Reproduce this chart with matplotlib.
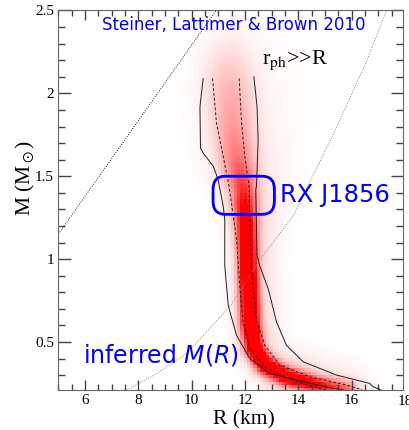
import matplotlib
matplotlib.use("Agg")
import matplotlib.pyplot as plt
import numpy as np
from matplotlib.colors import LinearSegmentedColormap
from matplotlib.patches import FancyBboxPatch
from matplotlib.ticker import MultipleLocator

#outer (solid) contour, left and right edges
outer_left_R = [10.43, 10.31, 10.33, 10.43, 10.81, 10.99, 11.18, 11.24, 11.24, 11.37, 11.68, 12.18, 12.93, 14.18, 15.3, 15.7]
outer_left_M = [2.09, 1.92, 1.67, 1.64, 1.56, 1.48, 1.32, 1.24, 0.96, 0.72, 0.54, 0.40, 0.31, 0.26, 0.22, 0.21]
outer_right_R = [12.33, 12.45, 12.49, 12.43, 12.40, 12.45, 12.55, 12.87, 13.18, 13.55, 14.18, 15.43, 16.67, 16.8, 17.1]
outer_right_M = [2.10, 1.92, 1.72, 1.44, 1.42, 1.02, 0.96, 0.82, 0.62, 0.48, 0.38, 0.30, 0.25, 0.23, 0.21]

#inner (dashed) contour
inner_left_R = [10.78, 10.93, 11.18, 11.40, 11.68, 11.81, 11.93, 12.18, 12.81, 13.93, 15.0]
inner_left_M = [2.09, 1.82, 1.62, 1.44, 1.12, 0.82, 0.62, 0.46, 0.34, 0.26, 0.21]
inner_right_R = [11.78, 11.87, 11.99, 12.15, 12.22, 12.30, 12.45, 12.74, 13.30, 14.43, 15.80, 16.4]
inner_right_M = [2.09, 1.82, 1.62, 1.44, 1.02, 0.82, 0.62, 0.48, 0.36, 0.29, 0.24, 0.21]

#ridge of the probability band, its strength (above 1 = saturated) and its half width in km
band_R = [11.30, 11.35, 11.40, 11.50, 11.65, 11.90, 12.00, 12.05, 12.10, 12.15, 12.30, 12.70, 13.50, 14.60, 15.80]
band_M = [2.25, 2.10, 2.00, 1.80, 1.60, 1.40, 1.20, 1.00, 0.80, 0.60, 0.45, 0.35, 0.28, 0.23, 0.20]
band_peak = [0.06, 0.18, 0.25, 0.33, 0.45, 0.70, 1.10, 1.40, 1.50, 1.60, 1.50, 1.40, 1.20, 0.90, 0.50]
band_sigma = [0.60, 0.60, 0.58, 0.52, 0.45, 0.32, 0.25, 0.22, 0.22, 0.22, 0.22, 0.22, 0.22, 0.22, 0.22]

#causality line and photospheric radius curve (dotted)
causal_R = [5.0, 11.0]
causal_M = [1.15, 2.52]
rph_R = [7.56, 8.70, 9.81, 11.46, 12.58, 13.82, 15.32, 16.57, 17.3]
rph_M = [0.21, 0.31, 0.43, 0.72, 1.00, 1.265, 1.757, 2.2, 2.5]

#RX J1856 box
box_R = (10.8, 13.1)
box_M = (1.27, 1.50)

blue = "#0000ff"
serif = "Liberation Serif"

fig = plt.figure(figsize=(4.09, 4.30), dpi=100)
ax = fig.add_axes([0.1425, 0.093, 0.8435, 0.8826])

#build the red density image around the ridge (pixel-ish distances)
px_R, px_M = 26.7, 166.7
t = np.linspace(0, len(band_R) - 1, 400)
idx = np.arange(len(band_R))
cR = np.interp(t, idx, band_R)
cM = np.interp(t, idx, band_M)
cA = np.interp(t, idx, band_peak)
cS = np.interp(t, idx, band_sigma) * px_R
gR = np.arange(5.0, 18.0, 0.12)
gM = np.arange(0.2, 2.5, 0.02)
RR, MM = np.meshgrid(gR, gM)
dx = (RR[..., None] - cR) * px_R
dy = (MM[..., None] - cM) * px_M
d2 = dx**2 + dy**2
core = (cA * np.exp(-0.5 * d2 / cS**2)).max(axis=-1)
halo_s = np.where(dx > 0, 3.0, 2.0) * cS
halo = (0.2 * np.minimum(cA, 1) * np.exp(-0.5 * d2 / halo_s**2)).max(axis=-1)
dens = core + halo
cmap = LinearSegmentedColormap.from_list("wr", ["white", "#ff0000"])
ax.imshow(dens, origin="lower", extent=(gR[0], gR[-1] + 0.12, gM[0], gM[-1] + 0.02),
          cmap=cmap, vmin=0, vmax=1, aspect="auto", interpolation="nearest", zorder=-1)

#contours
ax.plot(outer_left_R, outer_left_M, color="#222222", lw=0.7, zorder=2)
ax.plot(outer_right_R, outer_right_M, color="#222222", lw=0.7, zorder=2)
ax.plot(inner_left_R, inner_left_M, color="#222222", lw=0.7, ls=(0, (3, 2)), zorder=2)
ax.plot(inner_right_R, inner_right_M, color="#222222", lw=0.7, ls=(0, (3, 2)), zorder=2)

#limit lines
ax.plot(causal_R, causal_M, color="#222222", lw=0.7, ls=(0, (1, 1.5)), zorder=2)
ax.plot(rph_R, rph_M, color="#888888", lw=0.7, ls=(0, (1, 1.5)), zorder=2)

#limits after imshow, which resets them
ax.set_xlim(5, 17.93)
ax.set_ylim(0.21, 2.5)

#rounded box, drawn in axes coords so the corners stay round
to_ax = ax.transData + ax.transAxes.inverted()
(bx0, by0), (bx1, by1) = to_ax.transform([(box_R[0], box_M[0]), (box_R[1], box_M[1])])
box = FancyBboxPatch((bx0, by0), bx1 - bx0, by1 - by0, boxstyle="round,pad=0,rounding_size=0.035",
                     transform=ax.transAxes, fill=False, ec=blue, lw=2, zorder=3)
ax.add_patch(box)

#texts
ax.text(0.509, 0.963, "Steiner, Lattimer & Brown 2010", transform=ax.transAxes, color=blue,
        fontsize=12, family="DejaVu Sans", ha="center", va="center")
ax.text(0.643, 0.513, "RX J1856", transform=ax.transAxes, color=blue, fontsize=17.5,
        family="DejaVu Sans", ha="left", va="center")
ax.text(0.071, 0.092, r"inferred $M(R)$", transform=ax.transAxes, color=blue, fontsize=17,
        family="DejaVu Sans", math_fontfamily="dejavusans", ha="left", va="center")
ax.text(12.63, 2.18, r"r$_{\rm ph}$>>R", fontsize=16, family=serif, math_fontfamily="stix",
        ha="left", va="baseline")

#axes and ticks
ax.xaxis.set_major_locator(MultipleLocator(2))
ax.xaxis.set_minor_locator(MultipleLocator(0.5))
ax.yaxis.set_major_locator(MultipleLocator(0.5))
ax.yaxis.set_minor_locator(MultipleLocator(0.1))
ax.tick_params(which="both", direction="in", top=True, right=True, bottom=True, left=True,
               colors="#444444", width=1.0, labelsize=11, pad=3)
ax.tick_params(axis="x", which="major", length=7)
ax.tick_params(axis="x", which="minor", length=4)
ax.tick_params(axis="y", which="major", length=9)
ax.tick_params(axis="y", which="minor", length=5)
ax.tick_params(which="both", labelcolor="black")
for lab in ax.get_xticklabels() + ax.get_yticklabels():
    lab.set_family(serif)
ax.yaxis.set_major_formatter(plt.FuncFormatter(lambda v, p: f"{v:g}"))
#the 18 label sits just past the right edge
ax.text(18, -0.014, "18", transform=ax.get_xaxis_transform(), fontsize=11, family=serif,
        ha="center", va="top", clip_on=False)
for s in ax.spines.values():
    s.set_color("#666666")
    s.set_linewidth(0.8)

ax.set_xlabel("R (km)", fontsize=15.5, family=serif)
ax.xaxis.set_label_coords(0.538, -0.052)
ax.set_ylabel(r"M (M$_\odot$)", fontsize=15.5, family=serif, math_fontfamily="stix")
ax.yaxis.set_label_coords(-0.062, 0.558)

fig.savefig("out.png", dpi=100)
